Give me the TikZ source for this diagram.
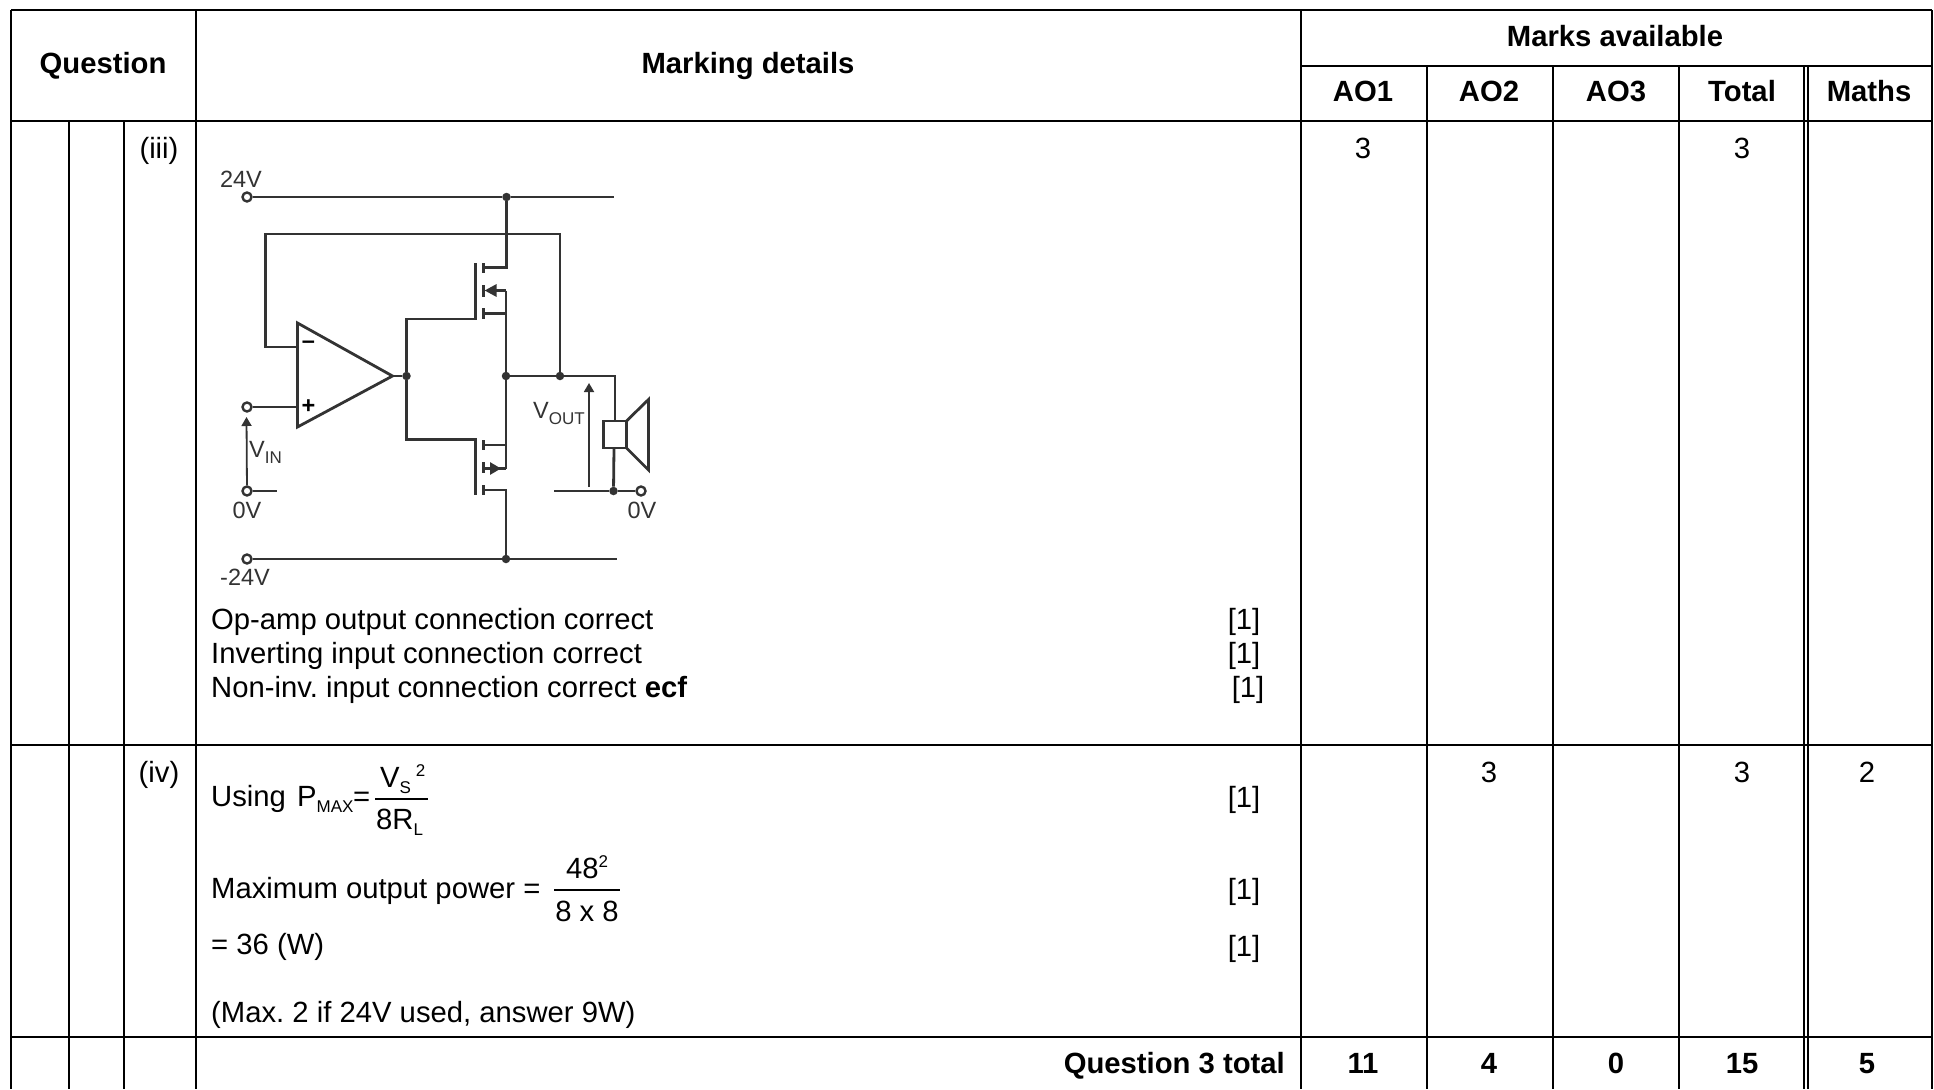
\documentclass[tikz,border=0pt]{standalone}
\usepackage{fontspec}
\setmainfont{Liberation Sans}
\usetikzlibrary{shapes, positioning, arrows.meta}
\frenchspacing

\newcommand{\bodyfont}{\fontsize{29.25}{34}\selectfont}
\newcommand{\labfont}{\fontsize{23.5}{28}\selectfont}
\newcommand{\subfont}{\fontsize{17}{20}\selectfont}
\newcommand{\lowtxt}[1]{\raisebox{-6pt}{\subfont #1}}
\newcommand{\hightxt}[1]{\raisebox{11pt}{\subfont #1}}

\tikzset{
  gridline/.style={line width=2.8pt, black},
  wire/.style={line width=2.8pt, black!80},
  thinwire/.style={line width=1.8pt, black!80},
  dotnode/.style={circle, fill=black!80, inner sep=0pt, minimum size=8.5pt},
  termnode/.style={circle, draw=black!80, line width=2.4pt, fill=white, inner sep=0pt, minimum size=9pt},
  cell/.style={anchor=base, inner sep=0pt, font=\bodyfont},
  headcell/.style={anchor=base, inner sep=0pt, font=\bodyfont\bfseries},
  bodytext/.style={anchor=base west, inner sep=0pt, font=\bodyfont},
  lab/.style={anchor=base, inner sep=0pt, font=\labfont, text=black!80},
  fracbar/.style={line width=1.4pt, black}
}

\begin{document}
\begin{tikzpicture}[x=1pt, y=-1pt]
\useasboundingbox (0,0) rectangle (1934,1089);

% Cuadro de la tabla
\draw[gridline] (11,10) -- (1932,10);
\draw[gridline] (1301,66) -- (1932,66);
\draw[gridline] (11,121) -- (1932,121);
\draw[gridline] (11,745) -- (1932,745);
\draw[gridline] (11,1037) -- (1932,1037);
\draw[gridline] (11,10) -- (11,1089);
\draw[gridline] (69,121) -- (69,1089);
\draw[gridline] (124,121) -- (124,1089);
\draw[gridline] (196,10) -- (196,1089);
\draw[gridline] (1301,10) -- (1301,1089);
\draw[gridline] (1427,66) -- (1427,1089);
\draw[gridline] (1553,66) -- (1553,1089);
\draw[gridline] (1679,66) -- (1679,1089);
\draw[gridline] (1804,66) -- (1804,1089);
\draw[gridline] (1808,66) -- (1808,1089);
\draw[gridline] (1932,10) -- (1932,1089);

% Encabezados
\node[headcell] (question) at (103,74) {Question};
\node[headcell] (marking) at (748,74) {Marking details};
\node[headcell] (marks) at (1615,47) {Marks available};
\node[headcell] (aoone) at (1363,102) {AO1};
\node[headcell] (aotwo) at (1489,102) {AO2};
\node[headcell] (aothree) at (1616,102) {AO3};
\node[headcell] (total) at (1742,102) {Total};
\node[headcell] (maths) at (1869,102) {Maths};

% Fila (iii)
\node[cell] (partiii) at (159,158) {(iii)};
\node[cell] (iiiaoone) at (1363,158) {3};
\node[cell] (iiitotal) at (1742,158) {3};
\node[bodytext] (lineone) at (211,629) {Op-amp output connection correct};
\node[bodytext] (linetwo) at (211,663) {Inverting input connection correct};
\node[bodytext] (linethree) at (211,697) {Non-inv. input connection correct \textbf{ecf}};
\node[cell] (markone) at (1244,629) {[1]};
\node[cell] (marktwo) at (1244,663) {[1]};
\node[cell] (markthree) at (1248,697) {[1]};

% Fila (iv)
\node[cell] (partiv) at (159,782) {(iv)};
\node[cell] (ivaotwo) at (1489,782) {3};
\node[cell] (ivtotal) at (1742,782) {3};
\node[cell] (ivmaths) at (1867,782) {2};
\node[bodytext] (usingtxt) at (211,806) {Using};
\node[bodytext] (pmax) at (297,806) {P\lowtxt{MAX}};
\node[bodytext] (equals) at (353,806) {=};
\node[bodytext] (vstop) at (380,787) {V\lowtxt{S}\,\hightxt{2}};
\node[bodytext] (rlbot) at (376,829) {8R\lowtxt{L}};
\draw[fracbar] (375,799) -- (428,799);
\node[bodytext] (maxout) at (211,898) {Maximum output power =};
\node[cell] (fourtyeight) at (587,878) {48\hightxt{2}};
\node[cell] (eightxeight) at (587,921) {8 x 8};
\draw[fracbar] (554,890) -- (620,890);
\node[bodytext] (result) at (211,954) {= 36 (W)};
\node[bodytext] (maxnote) at (211,1022) {(Max. 2 if 24V used, answer 9W)};
\node[cell] (markfour) at (1244,807) {[1]};
\node[cell] (markfive) at (1244,899) {[1]};
\node[cell] (marksix) at (1244,956) {[1]};

% Fila de totales
\node[headcell, anchor=base east] (qtotal) at (1285,1073) {Question 3 total};
\node[headcell] (sumone) at (1363,1073) {11};
\node[headcell] (sumtwo) at (1489,1073) {4};
\node[headcell] (sumthree) at (1616,1073) {0};
\node[headcell] (sumtotal) at (1742,1073) {15};
\node[headcell] (summaths) at (1867,1073) {5};

% Terminales y uniones del circuito
\node[termnode] (tplus) at (247,197) {};
\node[termnode] (tin) at (247,407) {};
\node[termnode] (tzeroin) at (247,491) {};
\node[termnode] (tminus) at (247,559) {};
\node[termnode] (tzeroout) at (641,491) {};
\node[dotnode] (jtop) at (506.5,197) {};
\node[dotnode] (jamp) at (406.5,376) {};
\node[dotnode] (jmid) at (506,376) {};
\node[dotnode] (jfeed) at (560,376) {};
\node[dotnode] (jzero) at (613.5,491) {};
\node[dotnode] (jbot) at (506,559) {};
\coordinate (railtop) at (614,197);
\coordinate (railbot) at (617,559);
\coordinate (zeroinend) at (277,491);
\coordinate (zerooutend) at (554,491);
\coordinate (spktop) at (615,376);

% Amplificador
\coordinate (ampa) at (297.5,323);
\coordinate (ampb) at (297.5,427);
\coordinate (ampout) at (392.5,376);
\draw[wire, line join=miter] (ampa) -- (ampb) -- (ampout) -- cycle;
\node[inner sep=0pt, font=\bfseries\labfont] (ampminus) at (308.5,345) {–};
\node[inner sep=0pt, font=\bfseries\labfont] (ampplus) at (308.5,407) {+};

% Lineas de alimentacion y realimentacion
\draw[wire] (tplus) -- (jtop) -- (railtop);
\draw[wire] (tminus) -- (jbot) -- (railbot);
\draw[wire] (tin) -- (297.5,407);
\draw[wire] (jfeed) -- (560,234) -- (265.5,234) -- (265.5,347) -- (297.5,347);
\draw[wire] (ampout) -- (jamp);
\draw[wire] (jmid) -- (jfeed) -- (spktop) -- (615,421);

% Transistor superior
\draw[wire] (jamp) -- (406.5,319) -- (475.5,319) -- (475.5,263);
\draw[wire] (483.5,263) -- (483.5,273);
\draw[wire] (483.5,285) -- (483.5,297);
\draw[wire] (483.5,308) -- (483.5,319);
\draw[wire] (jtop) -- (506.5,267.5) -- (483.5,267.5);
\draw[wire, -{Triangle[length=12pt,width=12pt]}] (506,290.5) -- (484.5,290.5);
\draw[wire] (506,290.5) -- (jmid);
\draw[wire] (483.5,313.5) -- (506,313.5);

% Transistor inferior
\draw[wire] (jamp) -- (406.5,439.5) -- (475.5,439.5) -- (475.5,495);
\draw[wire] (483.5,440) -- (483.5,450);
\draw[wire] (483.5,462) -- (483.5,473);
\draw[wire] (483.5,485) -- (483.5,495);
\draw[wire] (483.5,445) -- (506,445);
\draw[wire] (jmid) -- (506,468.5);
\draw[wire, -{Triangle[length=11pt,width=12pt]}] (483.5,468.5) -- (501,468.5);
\draw[wire] (498,468.5) -- (506,468.5);
\draw[wire] (483.5,490) -- (506,490) -- (jbot);

% Altavoz
\draw[wire] (603.5,421) rectangle (626.5,448);
\draw[wire, line join=miter] (626.5,421) -- (648.5,399.5) -- (648.5,470) -- (626.5,448);
\draw[wire] (614,448) -- (jzero);
\draw[wire] (zerooutend) -- (jzero) -- (tzeroout);
\draw[thinwire] (tzeroin) -- (zeroinend);

% Tensiones
\draw[thinwire, -{Triangle[length=9pt,width=10pt]}] (tzeroin) -- (246.5,417);
\draw[thinwire, -{Triangle[length=9pt,width=10pt]}] (589,487) -- (589,383);

% Textos del circuito
\node[lab] (lblplus) at (241,187) {24V};
\node[lab] (lblzeroin) at (247,518) {0V};
\node[lab] (lblminus) at (245,585) {-24V};
\node[lab] (lblzeroout) at (642,518) {0V};
\node[lab, anchor=base west] (lblvin) at (249,457) {V\lowtxt{IN}};
\node[lab, anchor=base west] (lblvout) at (533,418) {V\lowtxt{OUT}};

\end{tikzpicture}
\end{document}
